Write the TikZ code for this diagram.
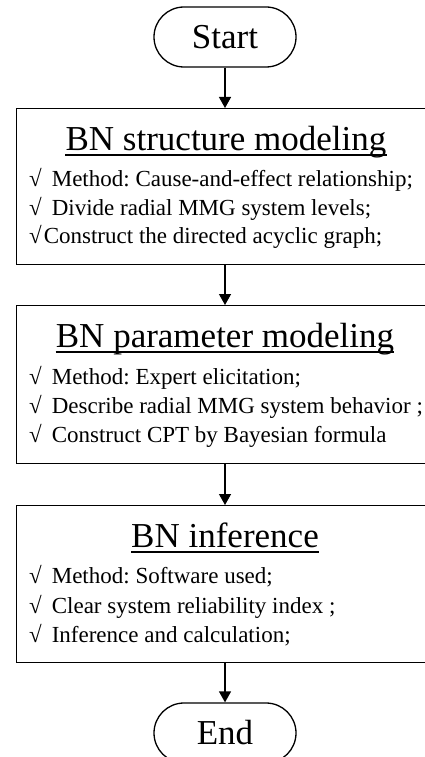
\documentclass[tikz,border=0pt]{standalone}
\usepackage{fontspec}
\setmainfont{Liberation Serif}
\frenchspacing
\usetikzlibrary{shapes.misc,arrows.meta}
\begin{document}
\begin{tikzpicture}[x=1pt,y=-1pt,
  term/.style={draw,line width=1.3pt,rounded rectangle,minimum width=142pt,minimum height=60pt,inner sep=0pt,font=\fontsize{35}{40}\selectfont},
  stagebox/.style={draw,line width=1.3pt,rectangle,anchor=north west,minimum width=440pt,inner sep=0pt},
  ttl/.style={anchor=base,inner sep=0pt,font=\fontsize{35}{40}\selectfont},
  itm/.style={anchor=base west,inner sep=0pt,font=\fontsize{23}{27}\selectfont},
  uline/.style={line width=1.2pt},
  arr/.style={line width=1.3pt,-{Triangle[length=11pt,width=12pt]}}]
\useasboundingbox (0,0) rectangle (425,757);
\clip (0,0) rectangle (425,757);
% terminals
\node[term] (start) at (225,37) {Start};
\node[term] (end) at (225,733) {End};
% boxes
\node[stagebox,minimum height=156pt] (b1) at (16,108) {};
\node[stagebox,minimum height=158pt] (b2) at (16,305) {};
\node[stagebox,minimum height=157pt] (b3) at (16,505) {};
% titles
\node[ttl] (t1) at (226,150) {BN structure modeling};
\node[ttl] (t2) at (225,347) {BN parameter modeling};
\node[ttl] (t3) at (225,547) {BN inference};
\foreach \t in {t1,t2,t3}{
  \draw[uline] ([yshift=-5pt]\t.base west) -- ([yshift=-5pt]\t.base east);
}
% items
\node[itm] (i11) at (29,186) {√\hspace{10pt}Method: Cause-and-effect relationship;};
\node[itm] (i12) at (29,215) {√\hspace{10pt}Divide radial MMG system levels;};
\node[itm] (i13) at (29,243) {√\hspace{2pt}Construct the directed acyclic graph;};
\node[itm] (i21) at (29,384) {√\hspace{10pt}Method: Expert elicitation;};
\node[itm] (i22) at (29,413) {√\hspace{10pt}Describe radial MMG system behavior ;};
\node[itm] (i23) at (29,442) {√\hspace{10pt}Construct CPT by Bayesian formula};
\node[itm] (i31) at (29,583) {√\hspace{10pt}Method: Software used;};
\node[itm] (i32) at (29,613) {√\hspace{10pt}Clear system reliability index ;};
\node[itm] (i33) at (29,642) {√\hspace{10pt}Inference and calculation;};
% connectors
\draw[arr] (start.south) -- (start.south |- b1.north);
\draw[arr] (start.south |- b1.south) -- (start.south |- b2.north);
\draw[arr] (start.south |- b2.south) -- (start.south |- b3.north);
\draw[arr] (end.north |- b3.south) -- (end.north);
\end{tikzpicture}
\end{document}
